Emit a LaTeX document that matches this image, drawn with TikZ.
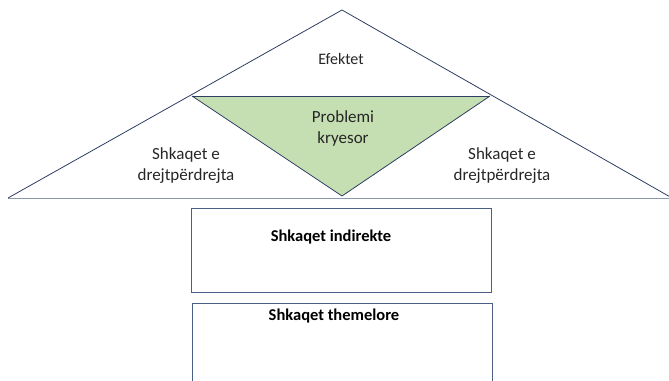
\documentclass[tikz,border=0pt]{standalone}
\usepackage{fontspec}
\setmainfont{Carlito}
\definecolor{navy}{HTML}{2E3D62}
\definecolor{boxblue}{HTML}{4A5F86}
\definecolor{basegray}{HTML}{8A98AE}
\definecolor{greenfill}{HTML}{C5DFB3}
\tikzset{
  tri/.style={draw=navy, line width=0.8pt, line join=miter},
  lbl/.style={font=\fontsize{17}{21}\selectfont, text=black!85, align=center, inner sep=0pt},
  boxlbl/.style={font=\fontsize{16.5}{19}\selectfont\bfseries, text=black, inner sep=0pt},
  boxframe/.style={draw=boxblue, line width=1pt}
}
\begin{document}
\begin{tikzpicture}[x=1pt, y=-1pt]
\useasboundingbox (0,0) rectangle (669,380);
\clip (0,0) rectangle (669,380);
% coordinates
\coordinate (A) at (342,10);
\coordinate (L) at (8,198);
\coordinate (R) at (672,198);
\coordinate (G1) at (192,96);
\coordinate (G2) at (490,96);
\coordinate (G3) at (342,196);
% green inner triangle
\fill[greenfill] (G1) -- (G2) -- (G3) -- cycle;
% base line
\draw[draw=basegray, line width=1pt] (L) -- (R);
% outer triangle
\draw[tri] (L) -- (A) -- (R);
\draw[tri] (G1) -- (G2);
\draw[tri] (G1) -- (G3) -- (G2);
% labels
\node[lbl, font=\fontsize{16}{20}\selectfont] (eff) at (341,59) {Efektet};
\node[lbl] (prob) at (343,128) {Problemi\\kryesor};
\node[lbl] (left) at (186,166) {Shkaqet e\\drejtpërdrejta};
\node[lbl] (right) at (502,166) {Shkaqet e\\drejtpërdrejta};
% boxes
\node[boxframe, minimum width=300pt, minimum height=84pt, inner sep=0pt] (b1) at (341,250) {};
\node[boxlbl] (t1) at (331,237) {Shkaqet indirekte};
\node[boxframe, minimum width=300pt, minimum height=100pt, inner sep=0pt] (b2) at (342,353) {};
\node[boxlbl] (t2) at (334,316) {Shkaqet themelore};
\end{tikzpicture}
\end{document}
